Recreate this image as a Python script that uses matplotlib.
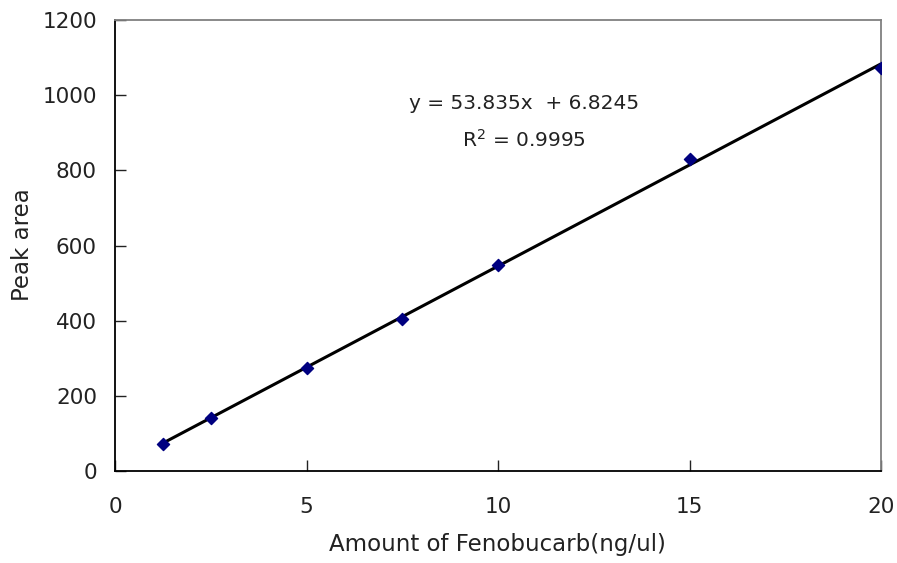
import numpy as np
import matplotlib.pyplot as plt

plt.rcParams['font.family'] = ['DejaVu Sans']

# calibration standards
amount = [1.25, 2.5, 5, 7.5, 10, 15, 20]
peak_area = [72, 141, 273, 405, 548, 829, 1072]

# linear fit reported on the chart
slope = 53.835
intercept = 6.8245
r2 = 0.9995

fig = plt.figure(figsize=(8.97, 5.63), dpi=100)
ax = fig.add_axes([0.1282, 0.1634, 0.854, 0.801])

xfit = np.array([amount[0], amount[-1]])
ax.plot(xfit, slope * xfit + intercept, color='black', lw=2.2, zorder=2)
ax.scatter(amount, peak_area, marker='D', s=38, color='#000080', zorder=3)

ax.set_xlim(0, 20)
ax.set_ylim(0, 1200)
ax.set_xticks([0, 5, 10, 15, 20])
ax.set_yticks(np.arange(0, 1201, 200))
ax.tick_params(direction='in', length=8, width=1, labelsize=15.5, colors='#222222')
ax.tick_params(axis='y', pad=13)
ax.tick_params(axis='x', pad=19)

for side in ['left', 'bottom']:
    ax.spines[side].set_color('black')
    ax.spines[side].set_linewidth(1.3)
for side in ['top', 'right']:
    ax.spines[side].set_color('#808080')
    ax.spines[side].set_linewidth(1.3)

ax.set_xlabel('Amount of Fenobucarb(ng/ul)', fontsize=16.5, color='#222222')
ax.set_ylabel('Peak area', fontsize=16.5, color='#222222')
ax.xaxis.set_label_coords(0.499, -0.162)
ax.yaxis.set_label_coords(-0.121, 0.503)
ax.yaxis.label.set_va('center')
ax.xaxis.label.set_va('center')

ax.text(10.67, 978, f'y = {slope}x  + {intercept}', ha='center', va='center',
        fontsize=14.5, color='#222222')
ax.text(10.67, 882, f'R$^2$ = {r2}', ha='center', va='center',
        fontsize=14.5, color='#222222')

fig.savefig('out.png', dpi=100)
